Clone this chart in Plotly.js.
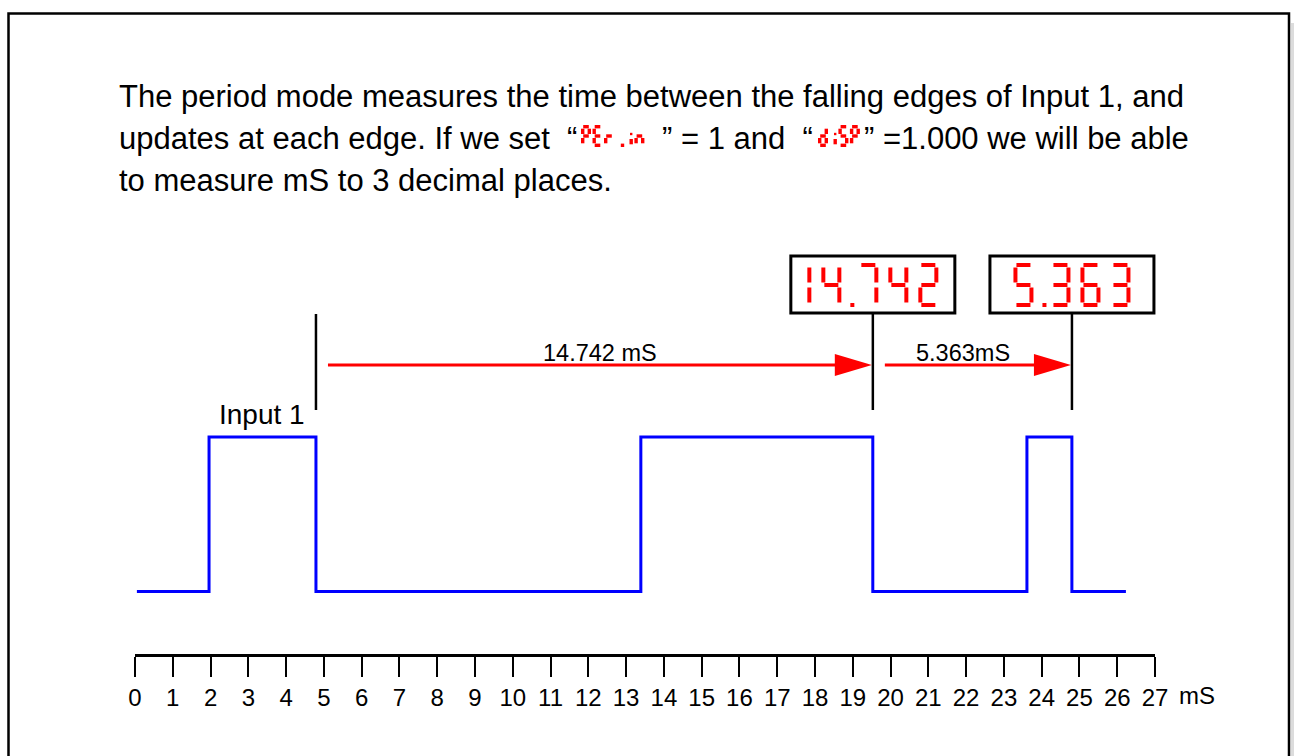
<!DOCTYPE html>
<html><head><meta charset="utf-8">
<script src="https://cdn.plot.ly/plotly-3.0.1.min.js"></script>
<style>html,body{margin:0;padding:0;background:#fff;overflow:hidden}#chart{width:1294px;height:756px}</style>
</head><body><div id="chart"></div>
<script>
// ---------------- data ----------------
const tickValues = [0,1,2,3,4,5,6,7,8,9,10,11,12,13,14,15,16,17,18,19,20,21,22,23,24,25,26,27];
const tickLabels = ['0','1','2','3','4','5','6','7','8','9','10','11','12','13','14','15','16','17','18','19','20','21','22','23','24','25','26','27'];
const axisUnit = 'mS';
// Input 1 waveform: time (mS) of each level change and the level that follows it
const edgeTimes = [0.05, 1.96, 4.79, 13.39, 19.53, 23.61, 24.80, 26.23];
const signalLevels = [0, 1, 0, 1, 0, 1, 0, 0];
const signalName = 'Input 1';
const periodValues = [14.742, 5.363];
const arrowLabels = ['14.742 mS', '5.363mS'];
const arrowLabelPos = [0.5, 0.42];
const displayReadings = ['14.742', '5.363'];
const paramCodes = ['PEr. in', 'd iSP'];
const textLine1 = 'The period mode measures the time between the falling edges of Input 1, and';
const textLine2a = 'updates at each edge. If we set  \u201C';
const textLine2b = '\u201D = 1 and  \u201C';
const textLine2c = '\u201D =1.000 we will be able';
const textLine3 = 'to measure mS to 3 decimal places.';

// ---------------- helpers ----------------
const W = 1294, H = 756;
const PX0 = 135, PXU = 37.78;          // pixel of 0 mS, pixels per mS (matches x axis below)
const X = t => PX0 + PXU * t;
const px = x => x / W, py = y => 1 - y / H;
const FONT = 'Liberation Sans, Arial, sans-serif';
const RED = '#ff0000';
const shapes = [], annotations = [];

function pline(x0, y0, x1, y1, color, width) {
  shapes.push({type:'line', xref:'paper', yref:'paper', x0:px(x0), y0:py(y0), x1:px(x1), y1:py(y1),
               line:{color:color, width:width}});
}
function prect(x0, y0, x1, y1, lineColor, lineWidth, fill) {
  shapes.push({type:'rect', xref:'paper', yref:'paper', x0:px(x0), y0:py(y0), x1:px(x1), y1:py(y1),
               line:{color:lineColor, width:lineWidth}, fillcolor:fill});
}
function ppath(pts, fill) {
  const d = pts.map((p, i) => (i ? 'L' : 'M') + px(p[0]).toFixed(5) + ',' + py(p[1]).toFixed(5)).join(' ') + ' Z';
  shapes.push({type:'path', xref:'paper', yref:'paper', path:d, fillcolor:fill, line:{width:0}});
}
function text(str, x, y, size, xanchor, color) {
  annotations.push({text:str, xref:'paper', yref:'paper', x:px(x), y:py(y), xanchor:xanchor || 'left',
                    yanchor:'middle', showarrow:false, font:{family:FONT, size:size, color:color || '#000'}});
}

// seven-segment glyph renderer
const SEG = {'0':'abcdef','1':'bc','2':'abdeg','3':'abcdg','4':'bcfg','5':'acdfg','6':'acdefg','7':'abc',
             '8':'abcdefg','9':'abcdfg','P':'abefg','E':'adefg','r':'eg','n':'ceg','d':'bcdeg','S':'acdfg'};
function sevenSeg(str, o) {
  // o: {w,h,th,gap,hgap,vgap,dotOff,dotAdv,spaceAdv, top, left | center}
  const items = [];
  let cur = null;
  const hw = o.th / 2, M = o.h / 2, yt = hw, yb = o.h - hw;
  for (const ch of str) {
    if (ch === '.') { items.push({dot:true, x:(cur || 0) + o.dotOff, y:yb}); cur = (cur || 0) + o.dotAdv; continue; }
    if (ch === ' ') { cur = (cur || 0) + o.spaceAdv; continue; }
    const L = cur === null ? 0 : cur + o.gap;
    const R = L + o.w;
    const xl = L + hw, xr = R - hw;
    if (ch === 'i') {
      items.push({seg:[xl, M + o.vgap + 1, xl, yb - o.vgap + 1]});
      items.push({dot:true, x:xl, y:M - o.vgap, small:true});
      cur = L + o.th; continue;
    }
    const s = SEG[ch] || '';
    if (s.includes('a')) items.push({seg:[L + o.hgap, yt, R - o.hgap, yt]});
    if (s.includes('g')) items.push({seg:[L + o.hgap, M, R - o.hgap, M]});
    if (s.includes('d')) items.push({seg:[L + o.hgap, yb, R - o.hgap, yb]});
    if (s.includes('f')) items.push({seg:[xl, yt + o.vgap, xl, M - o.vgap]});
    if (s.includes('b')) items.push({seg:[xr, yt + o.vgap, xr, M - o.vgap]});
    if (s.includes('e')) items.push({seg:[xl, M + o.vgap, xl, yb - o.vgap]});
    if (s.includes('c')) items.push({seg:[xr, M + o.vgap, xr, yb - o.vgap]});
    cur = R;
  }
  let mn = Infinity, mx = -Infinity;
  items.forEach(it => {
    if (it.seg) {
      const horiz = it.seg[1] === it.seg[3];
      const e = horiz ? 0 : hw;
      mn = Math.min(mn, it.seg[0] - e); mx = Math.max(mx, it.seg[2] + e);
    } else { mn = Math.min(mn, it.x - hw); mx = Math.max(mx, it.x + hw); }
  });
  const dx = o.center !== undefined ? o.center - (mn + mx) / 2 : o.left - mn;
  items.forEach(it => {
    if (it.seg) pline(it.seg[0] + dx, it.seg[1] + o.top, it.seg[2] + dx, it.seg[3] + o.top, RED, o.th);
    else { const r = (it.small ? 0.7 : 1) * hw;
      prect(it.x + dx - r, it.y + o.top - r, it.x + dx + r, it.y + o.top + r, RED, 0, RED); }
  });
}

// ---------------- outer frame ----------------
prect(1291, 23, 1294, 760, 'rgba(0,0,0,0)', 0, '#dcdcdc');
prect(8.5, 13.5, 1289, 800, '#000', 2.5, 'rgba(0,0,0,0)');

// ---------------- explanatory text ----------------
text(textLine1, 117, 96, 31);
text(textLine2a, 117, 138, 31);
const small = {w:10, h:22, th:3.4, gap:1.5, hgap:2.2, vgap:2, dotOff:8.5, dotAdv:10, spaceAdv:4, top:125};
sevenSeg(paramCodes[0], Object.assign({}, small, {left:581}));
text(textLine2b, 660, 138, 31);
sevenSeg(paramCodes[1], Object.assign({}, small, {left:818}));
text(textLine2c, 862, 138, 31);
text(textLine3, 117, 180, 31);

// ---------------- falling edges, markers, arrows, displays ----------------
const falling = [];
for (let i = 1; i < edgeTimes.length; i++) if (signalLevels[i - 1] === 1 && signalLevels[i] === 0) falling.push(edgeTimes[i]);

const ARROW_Y = 365, MARK_BOTTOM = 410, BOX_TOP = 256, BOX_BOTTOM = 313, BOX_W = 164;
falling.forEach((t, i) => {
  pline(X(t), i === 0 ? 314 : BOX_BOTTOM, X(t), MARK_BOTTOM, '#000', 2.5);
});
periodValues.forEach((p, i) => {
  const x0 = X(falling[i]) + 12, tip = X(falling[i + 1]) - 1;
  pline(x0, ARROW_Y, tip - 30, ARROW_Y, RED, 3);
  ppath([[tip - 37, ARROW_Y - 11], [tip, ARROW_Y], [tip - 37, ARROW_Y + 11]], RED);
  text(arrowLabels[i], x0 + (tip - x0) * arrowLabelPos[i], 353, 23.5, 'center');
  // display box above the edge that ends this period
  const cx = X(falling[i + 1]);
  prect(cx - BOX_W / 2, BOX_TOP, cx + BOX_W / 2, BOX_BOTTOM, '#000', 3, '#fff');
  sevenSeg(displayReadings[i], {w:20, h:44, th:4, gap:10, hgap:3, vgap:2.5, dotOff:11, dotAdv:7, spaceAdv:10, top:263, center:cx});
});

// ---------------- labels ----------------
text(signalName, 262, 414, 28, 'center');
text(axisUnit, 1197, 695, 24, 'center');

// ---------------- plot ----------------
const trace = {
  x: edgeTimes, y: signalLevels, type: 'scatter', mode: 'lines',
  line: {shape: 'hv', color: '#0000ff', width: 3}, hoverinfo: 'skip', showlegend: false
};
const layout = {
  width: W, height: H, margin: {l:0, r:0, t:0, b:0},
  paper_bgcolor: '#fff', plot_bgcolor: 'rgba(0,0,0,0)', showlegend: false,
  xaxis: {domain: [135 / W, 1155 / W], range: [0, 27], anchor: 'free', position: py(655),
          showline: true, linecolor: '#000', linewidth: 3, ticks: 'outside', ticklen: 20, tickwidth: 2,
          tickcolor: '#000', tickvals: tickValues, ticktext: tickLabels, showgrid: false, zeroline: false,
          tickfont: {family: FONT, size: 24, color: '#000'}, fixedrange: true},
  yaxis: {domain: [0, 1], range: [-(H - 591.5) / 154.5, 591.5 / 154.5], visible: false, fixedrange: true},
  shapes: shapes, annotations: annotations
};
Plotly.newPlot('chart', [trace], layout, {displayModeBar: false, staticPlot: true});
</script></body></html>
